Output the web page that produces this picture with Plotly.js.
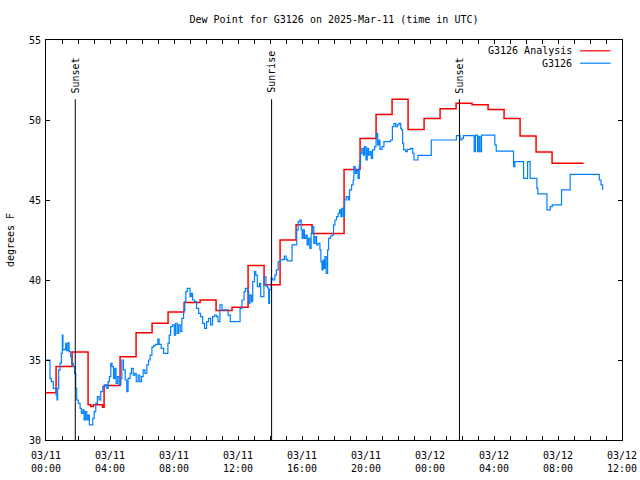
<!DOCTYPE html>
<html>
<head>
<meta charset="utf-8">
<script src="https://cdn.plot.ly/plotly-3.0.1.min.js"></script>
<style>html,body{margin:0;padding:0;background:#fff;}#chart{width:640px;height:480px;}</style>
</head>
<body>
<div id="chart"></div>
<script>
// Hours since 03/11 00:00 UTC
const analysisHours = [0, 0.63, 1.63, 2.63, 2.8, 2.96, 3.53, 3.63, 4.63, 5.63, 6.63, 7.63, 8.63, 9.63, 10.63, 11.63, 12.63, 13.63, 14.63, 15.63, 16.63, 18.63, 19.63, 20.63, 21.63, 22.63, 23.63, 24.63, 25.63, 26.63, 27.63, 28.63, 29.63, 30.63, 31.63, 33.6];
const analysisDew = [32.95, 34.6, 35.5, 32.2, 32.1, 32.2, 32.05, 33.4, 35.2, 36.7, 37.3, 38.0, 38.6, 38.75, 38.1, 38.3, 40.9, 39.7, 42.5, 43.45, 42.9, 46.9, 48.85, 50.35, 51.3, 49.4, 50.1, 50.7, 51.05, 50.95, 50.65, 50.1, 49.0, 48.0, 47.3, 47.3];

const stationHours = [0.0, 0.25, 0.33, 0.46, 0.63, 0.69, 0.73, 0.79, 0.88, 0.96, 1.02, 1.06, 1.17, 1.23, 1.29, 1.38, 1.44, 1.54, 1.61, 1.71, 1.79, 1.86, 1.92, 2.02, 2.13, 2.21, 2.30, 2.38, 2.46, 2.55, 2.63, 2.71, 2.92, 3.01, 3.11, 3.21, 3.32, 3.42, 3.55, 3.67, 3.80, 3.88, 3.96, 4.05, 4.13, 4.22, 4.30, 4.38, 4.47, 4.57, 4.68, 4.74, 4.84, 4.95, 5.05, 5.13, 5.26, 5.34, 5.45, 5.55, 5.64, 5.76, 5.86, 5.97, 6.07, 6.18, 6.30, 6.41, 6.51, 6.62, 6.72, 6.83, 6.99, 7.07, 7.20, 7.35, 7.62, 7.70, 7.79, 7.91, 8.02, 8.10, 8.20, 8.29, 8.39, 8.49, 8.60, 8.68, 8.74, 8.83, 9.00, 9.08, 9.16, 9.28, 9.41, 9.54, 9.66, 9.79, 9.91, 10.04, 10.16, 10.29, 10.41, 10.54, 10.66, 10.75, 10.87, 11.0, 11.38, 11.52, 12.13, 12.25, 12.38, 12.46, 12.59, 12.67, 12.75, 12.84, 12.92, 13.03, 13.11, 13.21, 13.34, 13.42, 13.62, 13.75, 13.85, 13.92, 13.97, 14.07, 14.17, 14.30, 14.40, 14.51, 14.65, 14.80, 14.90, 15.01, 15.09, 15.38, 15.67, 15.76, 15.86, 15.95, 16.01, 16.07, 16.15, 16.24, 16.32, 16.40, 16.49, 16.57, 16.65, 16.74, 16.82, 16.91, 17.01, 17.12, 17.18, 17.25, 17.31, 17.36, 17.43, 17.51, 17.60, 17.66, 17.78, 17.89, 17.97, 18.06, 18.16, 18.26, 18.35, 18.43, 18.49, 18.58, 18.66, 18.76, 18.89, 18.97, 19.10, 19.20, 19.24, 19.33, 19.41, 19.50, 19.58, 19.66, 19.74, 19.83, 19.91, 20.0, 20.08, 20.16, 20.25, 20.33, 20.41, 20.54, 20.63, 20.67, 20.73, 20.81, 20.87, 21.0, 21.12, 21.54, 21.65, 21.75, 21.86, 21.96, 22.06, 22.17, 22.23, 22.29, 22.35, 22.48, 22.58, 22.79, 22.92, 23.0, 23.25, 24.08, 25.65, 25.88, 25.99, 26.09, 26.76, 26.84, 26.97, 27.05, 27.13, 27.22, 28.05, 28.14, 29.22, 29.30, 29.85, 30.10, 30.26, 30.68, 30.74, 31.31, 31.52, 31.64, 32.22, 32.76, 34.58, 34.69, 34.79];
const stationDew = [35.0, 33.85, 33.65, 33.23, 32.81, 32.5, 33.23, 34.38, 34.8, 35.42, 36.56, 35.63, 35.67, 36.04, 35.58, 36.08, 35.52, 35.21, 34.79, 34.58, 34.17, 33.23, 32.5, 32.29, 31.98, 31.67, 31.88, 31.25, 31.77, 31.25, 31.56, 30.94, 31.35, 31.77, 32.29, 32.71, 32.5, 33.02, 33.33, 33.44, 33.23, 33.65, 33.96, 34.79, 34.58, 33.85, 34.48, 33.54, 33.96, 33.44, 33.85, 35.0, 34.38, 33.75, 33.02, 33.85, 34.17, 34.48, 34.06, 34.17, 33.65, 34.06, 33.65, 33.96, 34.38, 34.17, 34.69, 35.0, 35.31, 35.8, 35.9, 35.98, 36.31, 35.98, 35.73, 35.42, 36.04, 36.56, 37.08, 37.19, 36.56, 37.29, 36.67, 37.19, 36.77, 37.6, 38.1, 38.65, 39.27, 39.48, 38.96, 39.17, 38.75, 38.65, 38.23, 37.92, 37.71, 37.29, 36.98, 37.4, 37.6, 37.19, 37.71, 37.81, 37.71, 37.4, 38.44, 38.13, 37.81, 37.4, 38.23, 38.75, 39.27, 39.48, 39.27, 38.54, 39.06, 38.65, 39.9, 40.52, 40.31, 39.58, 39.79, 38.96, 40.2, 39.6, 39.5, 38.54, 39.4, 40.1, 40.0, 40.31, 40.63, 41.15, 41.25, 41.29, 41.5, 41.29, 41.19, 42.19, 43.13, 43.65, 43.75, 43.13, 42.6, 43.13, 42.6, 42.81, 42.19, 42.6, 41.98, 42.92, 43.33, 42.29, 42.71, 42.19, 42.29, 41.88, 41.15, 40.63, 41.25, 40.73, 41.46, 40.42, 41.88, 42.6, 42.75, 42.81, 43.44, 43.75, 43.96, 44.17, 44.38, 43.96, 44.48, 43.96, 45.0, 45.21, 45.0, 45.63, 45.94, 46.25, 47.08, 46.67, 46.88, 46.35, 47.19, 47.92, 48.23, 47.81, 48.33, 47.5, 48.23, 47.81, 48.02, 47.6, 48.13, 48.33, 49.06, 49.17, 48.44, 48.75, 48.17, 48.33, 48.65, 48.75, 49.58, 49.79, 49.58, 49.69, 49.79, 49.48, 49.38, 48.54, 48.13, 48.02, 48.17, 48.23, 47.92, 47.5, 47.79, 48.75, 49.02, 48.75, 48.85, 49.02, 48.02, 49.06, 48.02, 48.96, 48.02, 49.06, 48.44, 48.06, 47.08, 47.4, 46.35, 47.4, 46.35, 45.73, 45.38, 44.38, 44.58, 44.69, 45.63, 46.6, 46.25, 45.94, 45.63];

const sunHours = [1.83, 14.1, 25.84];
const sunLabels = ['Sunset', 'Sunrise', 'Sunset'];
const sunLineTop = 51.3;

const xTickHours = [0, 4, 8, 12, 16, 20, 24, 28, 32, 36];
const xTickDates = ['03/11', '03/11', '03/11', '03/11', '03/11', '03/11', '03/12', '03/12', '03/12', '03/12'];
const xTickTimes = ['00:00', '04:00', '08:00', '12:00', '16:00', '20:00', '00:00', '04:00', '08:00', '12:00'];

const seriesNames = ['G3126 Analysis', 'G3126'];
const seriesColors = ['#ff0000', '#0080ff'];

const FONT = 'DejaVu Sans Mono, Liberation Mono, monospace';

const traces = [
  {x: analysisHours, y: analysisDew, name: seriesNames[0], type: 'scatter', mode: 'lines',
   line: {color: seriesColors[0], width: 1.5, shape: 'hv'}, hoverinfo: 'skip'},
  {x: stationHours, y: stationDew, name: seriesNames[1], type: 'scatter', mode: 'lines',
   line: {color: seriesColors[1], width: 1.2, shape: 'hv'}, hoverinfo: 'skip'}
];

const shapes = [];
const annotations = [];
sunHours.forEach((h, i) => {
  shapes.push({type: 'line', xref: 'x', yref: 'y', x0: h, x1: h, y0: 30, y1: sunLineTop,
               line: {color: 'black', width: 1}});
  annotations.push({x: h, y: sunLineTop, xref: 'x', yref: 'y', text: sunLabels[i], showarrow: false,
                    textangle: -90, xanchor: 'center', yanchor: 'bottom', yshift: 4,
                    font: {family: FONT, size: 10, color: 'black'}});
});

// gnuplot-style key: text then line sample
const keyRows = [0.973, 0.942];
seriesNames.forEach((n, i) => {
  annotations.push({x: 0.917, y: keyRows[i], xref: 'paper', yref: 'paper', text: n, showarrow: false,
                    xanchor: 'right', yanchor: 'middle', font: {family: FONT, size: 10, color: 'black'}});
  shapes.push({type: 'line', xref: 'paper', yref: 'paper', x0: 0.927, x1: 0.98, y0: keyRows[i], y1: keyRows[i],
               line: {color: seriesColors[i], width: 1.2}});
});

const layout = {
  width: 640, height: 480,
  margin: {l: 46, r: 18, t: 40, b: 40, pad: 0},
  paper_bgcolor: 'white', plot_bgcolor: 'white',
  font: {family: FONT, size: 10, color: 'black'},
  showlegend: false,
  title: {text: 'Dew Point for G3126 on 2025-Mar-11 (time in UTC)', x: 0.5, xref: 'paper',
          y: 1 - 19 / 480, yref: 'container', yanchor: 'middle', font: {family: FONT, size: 10, color: 'black'}},
  xaxis: {
    range: [0, 36], tickmode: 'array', tickvals: xTickHours,
    ticktext: xTickHours.map((h, i) => xTickDates[i] + '<br>' + xTickTimes[i]),
    ticks: 'inside', ticklen: 4, tickwidth: 1, tickcolor: 'black', ticklabelstandoff: 6,
    showline: true, linecolor: 'black', linewidth: 1, mirror: 'ticks',
    showgrid: false, zeroline: false, fixedrange: true,
    minor: {tickmode: 'linear', tick0: 0, dtick: 1, ticks: 'inside', ticklen: 4, tickwidth: 1, tickcolor: 'black', showgrid: false},
    tickfont: {family: FONT, size: 10, color: 'black'}
  },
  yaxis: {
    range: [30, 55], tickmode: 'linear', tick0: 30, dtick: 5,
    ticks: 'inside', ticklen: 4, tickwidth: 1, tickcolor: 'black', ticklabelstandoff: 2,
    showline: true, linecolor: 'black', linewidth: 1, mirror: 'ticks',
    showgrid: false, zeroline: false, fixedrange: true,
    tickfont: {family: FONT, size: 10, color: 'black'},
    title: {text: 'degrees F', standoff: 12, font: {family: FONT, size: 10, color: 'black'}}
  },
  shapes: shapes,
  annotations: annotations
};

Plotly.newPlot('chart', traces, layout, {displayModeBar: false, staticPlot: true});
</script>
</body>
</html>
